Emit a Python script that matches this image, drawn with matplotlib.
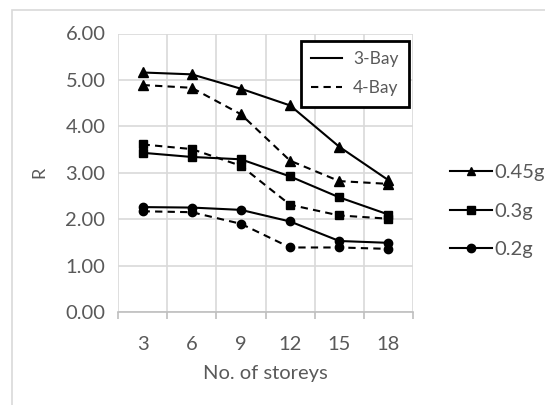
import matplotlib
matplotlib.use("Agg")
import matplotlib.pyplot as plt
from matplotlib.lines import Line2D
from matplotlib.patches import Rectangle

plt.rcParams['font.family'] = ['Lato', 'DejaVu Sans']

# data
storeys = ['3', '6', '9', '12', '15', '18']
r_045_3bay = [5.16, 5.12, 4.81, 4.45, 3.56, 2.84]
r_045_4bay = [4.89, 4.83, 4.26, 3.26, 2.82, 2.76]
r_03_3bay = [3.43, 3.34, 3.29, 2.92, 2.47, 2.10]
r_03_4bay = [3.61, 3.51, 3.15, 2.31, 2.08, 2.01]
r_02_3bay = [2.26, 2.25, 2.20, 1.95, 1.53, 1.49]
r_02_4bay = [2.17, 2.15, 1.90, 1.39, 1.39, 1.36]

pga_labels = ['0.45g', '0.3g', '0.2g']
pga_markers = ['^', 's', 'o']

W, H = 545, 405
fig = plt.figure(figsize=(W / 100, H / 100), dpi=100)

# outer chart frame (cut off at right and bottom like the reference)
fig.patches.append(Rectangle((12 / W, -0.1), 1.2, 1 - 10 / H + 0.1,
                             transform=fig.transFigure, fill=False,
                             edgecolor='#d9d9d9', linewidth=1.2))

ax = fig.add_axes([118 / W, 1 - 312 / H, 295 / W, 278.5 / H])

x = list(range(len(storeys)))
gray = '#595959'
grid = '#d9d9d9'
dash = (0, (3.5, 2.5))

series = [
    (r_045_3bay, r_045_4bay, '^', 6.5),
    (r_03_3bay, r_03_4bay, 's', 6),
    (r_02_3bay, r_02_4bay, 'o', 6),
]
for s3, s4, mk, ms in series:
    ax.plot(x, s3, color='black', linestyle='-', linewidth=1.5,
            marker=mk, markersize=ms, zorder=3)
    ax.plot(x, s4, color='black', linestyle=dash, linewidth=1.5,
            marker=mk, markersize=ms, zorder=3)

ax.set_xlim(-0.5, len(storeys) - 0.5)
ax.set_ylim(0, 6)
ax.set_yticks([0, 1, 2, 3, 4, 5, 6])
ax.set_yticklabels(['%.2f' % v for v in [0, 1, 2, 3, 4, 5, 6]])
ax.set_xticks(x)
ax.set_xticklabels(storeys)
ax.set_xticks([i - 0.5 for i in range(len(storeys) + 1)], minor=True)

ax.grid(True, axis='y', color=grid, linewidth=1.2)
ax.grid(True, axis='x', which='minor', color=grid, linewidth=1.2)
ax.set_axisbelow(True)

for side in ['left', 'right', 'top']:
    ax.spines[side].set_visible(False)
ax.spines['bottom'].set_color('#bfbfbf')
ax.spines['bottom'].set_linewidth(1.2)

ax.tick_params(axis='x', which='major', length=0, pad=17, labelsize=14.5, labelcolor=gray)
ax.tick_params(axis='x', which='minor', length=5, width=1.2, color='#bfbfbf', direction='out')
ax.tick_params(axis='y', length=0, pad=9, labelsize=14.5, labelcolor=gray)

ax.set_xlabel('No. of storeys', fontsize=14.5, color=gray, labelpad=9)
ax.set_ylabel('R', fontsize=13, color=gray, labelpad=13)

# legend for bay count
bay_handles = [Line2D([0], [0], color='black', linewidth=1.5),
               Line2D([0], [0], color='black', linewidth=1.5, linestyle=dash)]
leg = ax.legend(bay_handles, ['3-Bay', '4-Bay'], loc='upper right',
                bbox_to_anchor=(291 / 295, 271 / 278.5), frameon=True, fancybox=False,
                fontsize=12.5, handlelength=1.75, handletextpad=0.65,
                borderpad=0.6, borderaxespad=0, labelspacing=0.75, framealpha=1)
leg.get_frame().set_edgecolor('black')
leg.get_frame().set_linewidth(2)
for t in leg.get_texts():
    t.set_color(gray)

# legend for PGA level, outside right
pga_handles = [Line2D([0], [0], color='black', linewidth=1.5, marker=m, markersize=6)
               for m in pga_markers]
leg2 = fig.legend(pga_handles, pga_labels, loc='center left',
                  bbox_to_anchor=(432 / W, 1 - 211 / H), frameon=False,
                  fontsize=14.5, handlelength=2.1, handletextpad=0.1,
                  labelspacing=1.05)
for t in leg2.get_texts():
    t.set_color(gray)

fig.savefig('out.png', dpi=100)
